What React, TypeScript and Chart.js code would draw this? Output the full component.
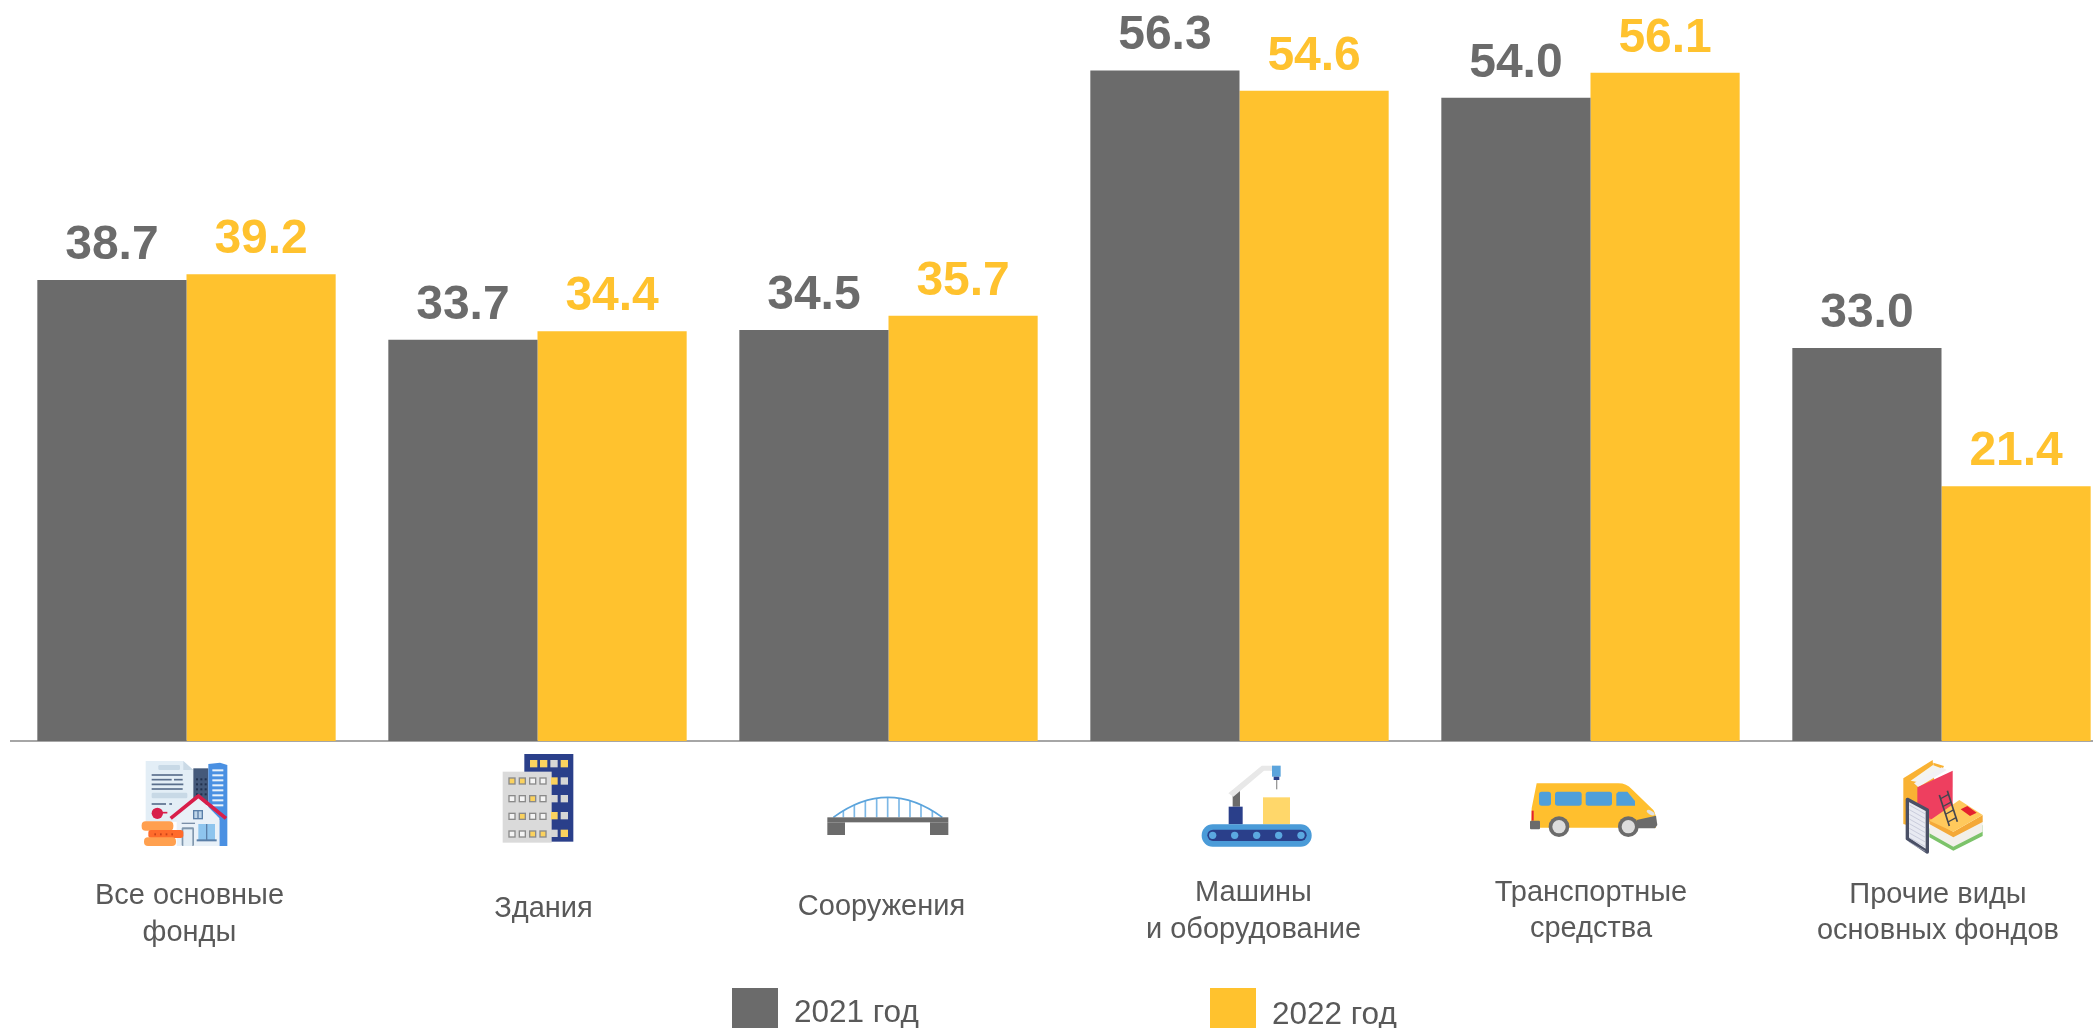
import React, { useEffect, useRef } from "react";
import { Chart, registerables } from "chart.js";

Chart.register(...registerables);

const categories: string[][] = [
  ["Все основные", "фонды"],
  ["Здания"],
  ["Сооружения"],
  ["Машины", "и оборудование"],
  ["Транспортные", "средства"],
  ["Прочие виды", "основных фондов"],
];
const series2021 = [38.7, 33.7, 34.5, 56.3, 54.0, 33.0];
const series2022 = [39.2, 34.4, 35.7, 54.6, 56.1, 21.4];
const seriesLabels = ["2021 год", "2022 год"];

const GRAY = "#6B6B6B";
const YELLOW = "#FFC22E";
const TEXT = "#595959";
const FONT = '"Liberation Sans", Arial, sans-serif';

// label layout: horizontal shift from the category centre and line centres in page pixels
const labelShift = [3, 6, -7, 14, 0.5, -3.5];
const labelLineY = [[895.5, 932.5], [908.5], [906.5], [892.5, 929.5], [892.5, 928.5], [894.5, 930.5]];
const legendLayout = [
  { box: 732, text: 794, y: 1013 },
  { box: 1210, text: 1272, y: 1015 },
];

type C = CanvasRenderingContext2D;
const poly = (c: C, fill: string, pts: number[]) => {
  c.fillStyle = fill;
  c.beginPath();
  for (let i = 0; i < pts.length; i += 2) {
    if (i === 0) c.moveTo(pts[0], pts[1]);
    else c.lineTo(pts[i], pts[i + 1]);
  }
  c.closePath();
  c.fill();
};
const rect = (c: C, fill: string, x0: number, y0: number, x1: number, y1: number) => {
  c.fillStyle = fill;
  c.fillRect(x0, y0, x1 - x0, y1 - y0);
};
const rrect = (c: C, fill: string, x0: number, y0: number, x1: number, y1: number, r: number) => {
  c.fillStyle = fill;
  c.beginPath();
  c.roundRect(x0, y0, x1 - x0, y1 - y0, r);
  c.fill();
};
const line = (c: C, stroke: string, w: number, x0: number, y0: number, x1: number, y1: number) => {
  c.strokeStyle = stroke;
  c.lineWidth = w;
  c.beginPath();
  c.moveTo(x0, y0);
  c.lineTo(x1, y1);
  c.stroke();
};
const disc = (c: C, fill: string, x: number, y: number, r: number) => {
  c.fillStyle = fill;
  c.beginPath();
  c.arc(x, y, r, 0, Math.PI * 2);
  c.fill();
};

function iconHouse(c: C) {
  poly(c, "#E3EEF6", [47, 33, 160, 33, 190, 60, 190, 215, 47, 215]);
  poly(c, "#CBDAE6", [160, 33, 190, 60, 160, 60]);
  rect(c, "#44597A", 190, 55, 235, 165);
  for (const y of [85, 100, 115, 130]) for (const x of [198, 211, 224]) rect(c, "#22324E", x, y, x + 6, y + 6);
  poly(c, "#4A90E2", [235, 42, 270, 38, 292, 45, 292, 288, 268, 288, 268, 210, 235, 175]);
  for (const y of [58, 73, 88, 103, 118, 133, 148, 163]) rect(c, "#E8F2FB", 247, y, 280, y + 6);
  rrect(c, "#C8D9E6", 85, 45, 150, 60, 4);
  rrect(c, "#C8D9E6", 65, 128, 172, 145, 4);
  line(c, "#5A6F8C", 5, 65, 75, 158, 75);
  line(c, "#5A6F8C", 5, 65, 89, 125, 89);
  line(c, "#5A6F8C", 5, 132, 89, 158, 89);
  line(c, "#5A6F8C", 5, 65, 103, 160, 103);
  line(c, "#5A6F8C", 5, 65, 117, 158, 117);
  line(c, "#5A6F8C", 5, 65, 162, 108, 162);
  line(c, "#5A6F8C", 5, 118, 162, 126, 162);
  disc(c, "#D81E4A", 82, 190, 17);
  line(c, "#D81E4A", 5, 90, 188, 112, 188);
  poly(c, "#E9F1F8", [205, 140, 268, 205, 268, 288, 140, 288, 140, 205]);
  c.lineJoin = "round";
  c.strokeStyle = "#D81E4A";
  c.lineWidth = 11;
  c.beginPath();
  c.moveTo(122, 205);
  c.lineTo(205, 138);
  c.lineTo(288, 205);
  c.stroke();
  rect(c, "#5A7FA8", 189, 180, 219, 208);
  rect(c, "#BFD6EA", 193, 184, 202, 204);
  rect(c, "#BFD6EA", 206, 184, 215, 204);
  line(c, "#7A8FA8", 4, 155, 220, 195, 220);
  rrect(c, "#8198AE", 155, 232, 192, 288, 4);
  rect(c, "#E3EEF6", 160, 238, 187, 288);
  rect(c, "#8EC5EE", 205, 222, 255, 270);
  rect(c, "#5A7FA8", 228, 222, 232, 270);
  rect(c, "#5A7FA8", 200, 268, 260, 274);
  rrect(c, "#FF9F4F", 35, 214, 130, 242, 12);
  rrect(c, "#FF6B2B", 55, 240, 160, 264, 8);
  rrect(c, "#FFA04F", 42, 262, 138, 288, 12);
  for (const x of [73, 90, 107, 124]) rect(c, "#C9431A", x, 250, x + 5, 256);
}

function iconBuilding(c: C) {
  const Y = "#FBD25E";
  const G = "#D6D6D6";
  const W = "#F4F4F4";
  rect(c, "#2A3F8A", 103, 27, 250, 290);
  const top = [Y, Y, G, Y];
  [120, 150, 181, 212].forEach((x, i) => rect(c, top[i], x, 45, x + 22, 67));
  rect(c, "#DADADA", 38, 80, 185, 293);
  const right = [[Y, G], [G, G], [Y, G], [G, Y]];
  [97, 150, 201, 254].forEach((y, r) => {
    rect(c, right[r][0], 183, y, 203, y + 22);
    rect(c, right[r][1], 212, y, 234, y + 22);
  });
  const fills = [[Y, Y, W, W], [W, W, Y, W], [W, Y, W, W], [W, W, Y, Y]];
  [97, 150, 203, 256].forEach((y, r) => {
    [55, 86, 117, 148].forEach((x, k) => {
      rect(c, "#8A8A8A", x, y, x + 22, y + 22);
      rect(c, fills[r][k], x + 4, y + 4, x + 18, y + 18);
    });
  });
}

function iconBridge(c: C) {
  const x0 = 55, x1 = 382, yEnd = 97, ctrl = -23;
  const archY = (x: number) => {
    const t = (x - x0) / (x1 - x0);
    return (1 - t) * (1 - t) * yEnd + 2 * t * (1 - t) * ctrl + t * t * yEnd;
  };
  for (const x of [85, 118, 151, 185, 218, 252, 285, 318, 352]) line(c, "#7DB8E6", 5, x, archY(x), x, yEnd);
  c.strokeStyle = "#5BA4DC";
  c.lineWidth = 5;
  c.beginPath();
  c.moveTo(x0, yEnd);
  c.quadraticCurveTo((x0 + x1) / 2, ctrl, x1, yEnd);
  c.stroke();
  rect(c, GRAY, 37, 97, 400, 112);
  rect(c, GRAY, 37, 112, 90, 150);
  rect(c, GRAY, 345, 112, 400, 150);
}

function iconConveyor(c: C) {
  rect(c, "#FFD76A", 219, 127, 300, 208);
  rect(c, "#6B6B6B", 128, 105, 150, 155);
  poly(c, "#E8E8E8", [115, 115, 215, 32, 250, 32, 250, 47, 222, 47, 130, 125]);
  rect(c, "#5BA4DC", 246, 32, 272, 65);
  rect(c, "#2A3F8A", 251, 65, 268, 75);
  rect(c, "#999999", 258, 75, 262, 103);
  rect(c, "#2A3F8A", 116, 155, 158, 208);
  rrect(c, "#4A9BD8", 35, 208, 365, 275, 33);
  rrect(c, "#2A3F8A", 52, 224, 350, 258, 17);
  for (const x of [68, 134, 200, 266, 333]) disc(c, "#5BA8E0", x, 241, 11);
}

function iconVan(c: C) {
  c.fillStyle = "#FFBF2E";
  c.beginPath();
  c.moveTo(50, 25);
  c.lineTo(295, 25);
  c.quadraticCurveTo(320, 25, 335, 42);
  c.lineTo(400, 105);
  c.quadraticCurveTo(408, 115, 408, 140);
  c.lineTo(408, 158);
  c.lineTo(33, 158);
  c.lineTo(35, 100);
  c.closePath();
  c.fill();
  const win = "#4F9FD9";
  rrect(c, win, 57, 50, 93, 92, 8);
  rrect(c, win, 105, 50, 185, 92, 8);
  rrect(c, win, 197, 50, 276, 92, 8);
  c.fillStyle = win;
  c.beginPath();
  c.moveTo(295, 50);
  c.lineTo(322, 50);
  c.lineTo(345, 78);
  c.lineTo(345, 92);
  c.lineTo(289, 92);
  c.lineTo(289, 56);
  c.closePath();
  c.fill();
  rect(c, "#E5202E", 35, 107, 41, 137);
  rrect(c, GRAY, 30, 137, 60, 163, 3);
  poly(c, GRAY, [350, 135, 408, 122, 412, 150, 405, 160, 350, 160]);
  c.fillStyle = "#E0E0E0";
  c.beginPath();
  c.ellipse(392, 113, 13, 6, 0.5, 0, Math.PI * 2);
  c.fill();
  for (const x of [117, 325]) {
    disc(c, GRAY, x, 155, 31);
    disc(c, "#DDDDDD", x, 155, 20);
  }
}

function iconBooks(c: C) {
  poly(c, "#F9B233", [40, 85, 128, 30, 135, 120, 60, 228, 40, 222]);
  poly(c, "#F4F4F0", [62, 92, 130, 44, 158, 52, 85, 97]);
  poly(c, "#F9B233", [130, 38, 162, 48, 158, 56, 130, 46]);
  poly(c, "#F2F2F5", [72, 100, 155, 52, 170, 60, 85, 112]);
  poly(c, "#EE3F5F", [82, 112, 188, 62, 188, 170, 122, 215, 82, 215]);
  poly(c, "#7CC36A", [118, 262, 190, 302, 278, 258, 278, 225, 190, 272, 118, 235]);
  poly(c, "#F2F0EA", [118, 250, 190, 290, 278, 245, 278, 205, 190, 255, 118, 215]);
  poly(c, "#F4A938", [118, 222, 190, 262, 278, 216, 278, 195, 190, 245, 118, 205]);
  poly(c, "#FFC95C", [118, 212, 208, 150, 278, 195, 190, 245]);
  poly(c, "#E5202E", [212, 178, 232, 168, 260, 188, 240, 198]);
  const dark = "#44464F";
  line(c, dark, 5, 148, 135, 178, 228);
  line(c, dark, 5, 172, 122, 202, 215);
  for (const t of [0.12, 0.37, 0.62, 0.87]) {
    line(c, dark, 4, 148 + 30 * t, 135 + 93 * t, 172 + 30 * t, 122 + 93 * t);
  }
  c.lineJoin = "round";
  c.strokeStyle = "#4A5066";
  c.fillStyle = "#E8EAF2";
  c.lineWidth = 10;
  c.beginPath();
  c.moveTo(52, 148);
  c.lineTo(112, 180);
  c.lineTo(112, 306);
  c.lineTo(52, 266);
  c.closePath();
  c.fill();
  c.stroke();
  for (let y = 0; y < 9; y++) {
    const dy = 14 * y;
    line(c, "#B9BDD0", 2, 58, 165 + dy, 106, 192 + dy);
  }
}

const icons: { draw: (c: C) => void; x: number; y: number }[] = [
  { draw: iconHouse, x: 130, y: 750 },
  { draw: iconBuilding, x: 490, y: 745 },
  { draw: iconBridge, x: 815, y: 785 },
  { draw: iconConveyor, x: 1190, y: 755 },
  { draw: iconVan, x: 1520, y: 775 },
  { draw: iconBooks, x: 1890, y: 750 },
];

const decorations = {
  id: "decorations",
  afterDatasetsDraw(chart: any) {
    const c: C = chart.ctx;
    const xScale = chart.scales.x;

    // value labels above bars
    c.save();
    c.font = `bold 48px ${FONT}`;
    c.textAlign = "center";
    c.textBaseline = "alphabetic";
    chart.data.datasets.forEach((ds: any, d: number) => {
      c.fillStyle = ds.backgroundColor;
      chart.getDatasetMeta(d).data.forEach((bar: any, i: number) => {
        c.fillText(ds.data[i].toFixed(1), bar.x, bar.y - 21);
      });
    });
    c.restore();

    // icons
    icons.forEach((ic) => {
      c.save();
      c.filter = "blur(0.6px)";
      c.translate(ic.x, ic.y);
      c.scale(1 / 3, 1 / 3);
      ic.draw(c);
      c.restore();
    });

    // category labels
    c.save();
    c.font = `29px ${FONT}`;
    c.fillStyle = TEXT;
    c.textAlign = "center";
    c.textBaseline = "middle";
    categories.forEach((lines, i) => {
      const x = xScale.getPixelForValue(i) + labelShift[i];
      lines.forEach((t, k) => c.fillText(t, x, labelLineY[i][k]));
    });
    c.restore();

    // legend
    c.save();
    c.font = `31.5px ${FONT}`;
    c.textBaseline = "middle";
    c.textAlign = "left";
    chart.data.datasets.forEach((ds: any, d: number) => {
      const l = legendLayout[d];
      c.fillStyle = ds.backgroundColor;
      c.fillRect(l.box, 988, 46, 46);
      c.fillStyle = TEXT;
      c.fillText(ds.label, l.text, l.y);
    });
    c.restore();
  },
};

export default function App() {
  const ref = useRef<HTMLCanvasElement>(null);
  useEffect(() => {
    const chart = new Chart(ref.current as HTMLCanvasElement, {
      type: "bar",
      data: {
        labels: categories.map((l) => l.join(" ")),
        datasets: [
          { label: seriesLabels[0], data: series2021, backgroundColor: GRAY },
          { label: seriesLabels[1], data: series2022, backgroundColor: YELLOW },
        ],
      },
      options: {
        responsive: false,
        animation: false,
        devicePixelRatio: 1,
        layout: { padding: { left: 11, right: 0, top: 26.4, bottom: 279 } },
        datasets: { bar: { barPercentage: 1, categoryPercentage: 0.85 } },
        plugins: { legend: { display: false }, tooltip: { enabled: false } },
        scales: {
          x: {
            grid: { display: false },
            border: { display: true, color: "#A6A6A6", width: 2 },
            ticks: { display: false },
          },
          y: { display: false, min: 0, max: 60 },
        },
      },
      plugins: [decorations],
    } as any);
    return () => chart.destroy();
  }, []);
  return (
    <div style={{ position: "absolute", left: 0, top: 0, width: 2093, height: 1028, overflow: "hidden", background: "#fff" }}>
      <canvas ref={ref} width={2117} height={1028} style={{ display: "block" }} />
    </div>
  );
}
